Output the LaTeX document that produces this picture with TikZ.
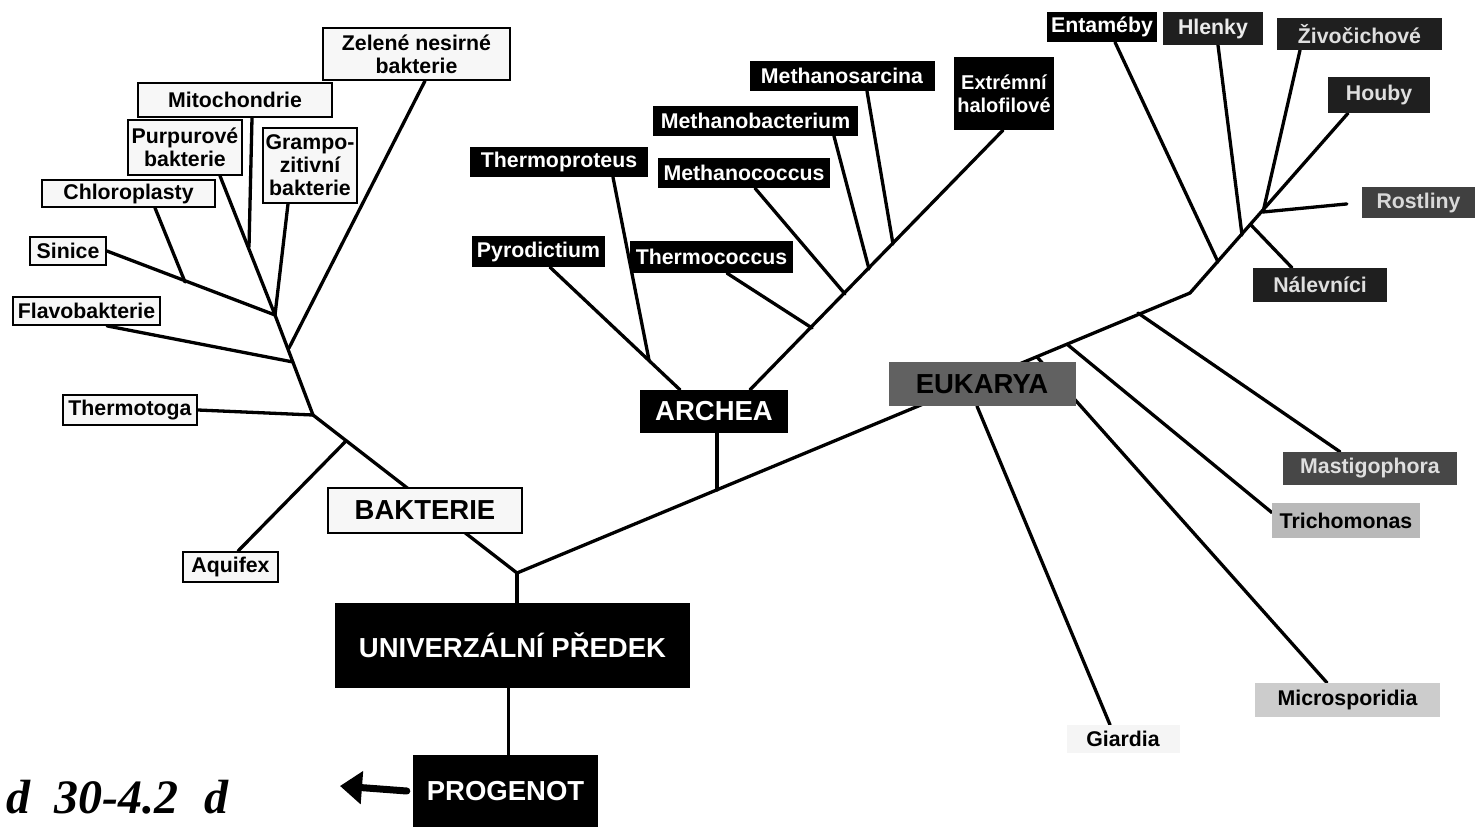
\documentclass[tikz,border=0pt]{standalone}
\usepackage{fontspec}
\setmainfont{Liberation Sans}
\newfontfamily\handfont{Liberation Serif}
\usetikzlibrary{arrows.meta}
\pgfdeclarelayer{bg}
\pgfdeclarelayer{paper}
\pgfsetlayers{paper,bg,main}
\newcommand\labfont{\fontsize{21.3}{23}\selectfont\bfseries}
\newcommand\headfont{\fontsize{27.5}{29}\selectfont\bfseries}
\tikzset{
  lbl/.style={inner sep=0pt, align=center, font=\labfont},
  bac/.style={lbl, draw=black, line width=1.8pt, fill=gray!6, text=black},
  arc/.style={lbl, fill=black, text=white},
  eukdark/.style={lbl, fill=black!88, text=gray!25},
  eukmid/.style={lbl, fill=gray!55, text=black},
  euklight/.style={lbl, fill=gray!8, text=black},
  branch/.style={line width=3.3pt, line cap=round, line join=round},
}
\begin{document}
\begin{tikzpicture}[x=1pt,y=-1pt]
\useasboundingbox (0,0) rectangle (1480,829);
\begin{pgfonlayer}{paper}
\fill[white] (0,0) rectangle (1480,829);
\end{pgfonlayer}

% ---------- bacteria ----------
\node[bac, minimum width=187pt, minimum height=52pt] (zel) at (416.5,54) {Zelené nesirné\\bakterie};
\node[bac, minimum width=194pt, minimum height=34pt] (mito) at (235,100) {Mitochondrie};
\node[bac, minimum width=114pt, minimum height=55pt] (purp) at (185,147.5) {Purpurové\\bakterie};
\node[bac, minimum width=94pt, minimum height=75pt] (gram) at (310,165.5) {Grampo-\\zitivní\\bakterie};
\node[bac, minimum width=173pt, minimum height=27pt] (chlo) at (128.5,193.5) {Chloroplasty};
\node[bac, minimum width=76pt, minimum height=28pt] (sin) at (68,251) {Sinice};
\node[bac, minimum width=147pt, minimum height=28pt] (flavo) at (86.5,311) {Flavobakterie};
\node[bac, minimum width=134pt, minimum height=30pt] (thermot) at (130,410) {Thermotoga};
\node[bac, minimum width=95pt, minimum height=30pt] (aqui) at (230.5,567) {Aquifex};
\node[bac, font=\headfont, minimum width=194pt, minimum height=45pt] (bakt) at (425,510.5) {BAKTERIE};

% ---------- archaea ----------
\node[arc, minimum width=185pt, minimum height=30pt] (msar) at (842,76) {Methanosarcina};
\node[arc, font=\fontsize{20}{23}\selectfont\bfseries, minimum width=100pt, minimum height=73pt] (extr) at (1004,93.5) {Extrémní\\halofilové};
\node[arc, minimum width=205pt, minimum height=30pt] (mbac) at (755.5,121) {Methanobacterium};
\node[arc, minimum width=178pt, minimum height=30pt] (tpro) at (559,162) {Thermoproteus};
\node[arc, minimum width=172pt, minimum height=30pt] (mcoc) at (744,173) {Methanococcus};
\node[arc, minimum width=133pt, minimum height=31pt] (pyro) at (538.5,251.5) {Pyrodictium};
\node[arc, minimum width=163pt, minimum height=32pt] (tcoc) at (711.5,257) {Thermococcus};
\node[arc, font=\headfont, minimum width=148pt, minimum height=43pt] (arch) at (714,411.5) {ARCHEA};

% ---------- eukarya ----------
\node[lbl, fill=black, text=white, minimum width=110pt, minimum height=30pt] (ent) at (1102,27) {Entaméby};
\node[eukdark, text=gray!15, minimum width=100pt, minimum height=33pt] (hlen) at (1213,28.5) {Hlenky};
\node[eukdark, minimum width=165pt, minimum height=32pt] (ziv) at (1359.5,34) {Živočichové};
\node[eukdark, minimum width=102pt, minimum height=36pt] (houb) at (1379,95) {Houby};
\node[lbl, fill=black!75, text=gray!30, minimum width=113pt, minimum height=31pt] (rost) at (1418.5,202.5) {Rostliny};
\node[eukdark, minimum width=134pt, minimum height=34pt] (nalev) at (1320,285) {Nálevníci};
\node[lbl, fill=black!72, text=gray!25, minimum width=174pt, minimum height=33pt] (mast) at (1370,468.5) {Mastigophora};
\node[eukmid, minimum width=148pt, minimum height=35pt] (trich) at (1346,520.5) {Trichomonas};
\node[lbl, fill=gray!40, text=black, minimum width=185pt, minimum height=34pt] (micro) at (1347.5,700) {Microsporidia};
\node[euklight, minimum width=113pt, minimum height=28pt] (giar) at (1123,739) {Giardia};
\node[lbl, font=\headfont, fill=black!62, text=black, minimum width=187pt, minimum height=44pt] (euk) at (982,384) {EUKARYA};

% ---------- centre ----------
\node[lbl, font=\headfont, fill=black, text=white, minimum width=355pt, minimum height=85pt] (univ) at (512.5,645.5) {UNIVERZÁLNÍ PŘEDEK};
\node[lbl, font=\headfont, fill=black, text=white, minimum width=185pt, minimum height=72pt] (prog) at (505.5,791) {PROGENOT};
\node[font=\handfont\bfseries\itshape\fontsize{48}{48}\selectfont, inner sep=0pt, anchor=west] (hand) at (6,797) {d\hspace{24pt}30-4.2\hspace{26pt}d};

% ---------- junctions ----------
\coordinate (root) at (517,573);
\coordinate (bJ) at (313,415);
\coordinate (aqJ) at (346,441);
\coordinate (flJ) at (293,362);
\coordinate (zeJ) at (289,348);
\coordinate (topJ) at (275,315);
\coordinate (chJ) at (185,282);
\coordinate (miJ) at (249,247);
\coordinate (arJ) at (717,490);
\coordinate (thpJ) at (649,360);
\coordinate (tcJ) at (812,328);
\coordinate (mcJ) at (845,294);
\coordinate (mbJ) at (869,269);
\coordinate (msJ) at (893,244);
\coordinate (eSplit) at (1190,293);
\coordinate (entJ) at (1218,262);
\coordinate (hleJ) at (1242,235);
\coordinate (nalJ) at (1251,225);
\coordinate (rosJ) at (1263,212);
\coordinate (mastJ) at (1138,313);
\coordinate (trJ) at (1068,345);
\coordinate (micJ) at (1037,357);
\coordinate (arrowtip) at (340,786);

\begin{pgfonlayer}{bg}
% centre
\draw[branch] (root) -- (root |- univ.north);
\draw[branch] ([xshift=-4pt]univ.south) -- ([xshift=-4pt]univ.south |- prog.north);
% bacteria
\draw[branch] (root) -- (bJ);
\draw[branch] (bJ) -- (topJ);
\draw[branch] (sin.east) -- (topJ);
\draw[branch] ([xshift=26.5pt]chlo.south) -- (chJ);
\draw[branch] ([xshift=35pt]purp.south) -- (topJ);
\draw[branch] ([xshift=17pt]mito.south) -- (miJ);
\draw[branch] ([xshift=-22pt]gram.south) -- (topJ);
\draw[branch] ([xshift=8.5pt]zel.south) -- (zeJ);
\draw[branch] ([xshift=20.5pt]flavo.south) -- (flJ);
\draw[branch] (thermot.east) -- (bJ);
\draw[branch] ([xshift=7.5pt]aqui.north) -- (aqJ);
% archaea
\draw[branch] (root) -- (eSplit);
\draw[branch] ([xshift=3pt]arch.south) -- (arJ);
\draw[branch] ([xshift=36pt]arch.north) -- ([xshift=-1pt]extr.south);
\draw[branch] ([xshift=11.5pt]pyro.south) -- ([xshift=-34pt]arch.north);
\draw[branch] ([xshift=54pt]tpro.south) -- (thpJ);
\draw[branch] ([xshift=15.5pt]tcoc.south) -- (tcJ);
\draw[branch] ([xshift=11pt]mcoc.south) -- (mcJ);
\draw[branch] ([xshift=78.5pt]mbac.south) -- (mbJ);
\draw[branch] ([xshift=25pt]msar.south) -- (msJ);
% eukarya
\draw[branch] (eSplit) -- ([xshift=-31pt]houb.south);
\draw[branch] ([xshift=13pt]ent.south) -- (entJ);
\draw[branch] ([xshift=5pt]hlen.south) -- (hleJ);
\draw[branch] ([xshift=-59.5pt]ziv.south) -- (rosJ);
\draw[branch, shorten >=15pt] (rosJ) -- (rost.west);
\draw[branch] (nalJ) -- ([xshift=-28pt]nalev.north);
\draw[branch] (mastJ) -- ([xshift=-30pt]mast.north);
\draw[branch] (trJ) -- ([yshift=8pt]trich.west);
\draw[branch] (micJ) -- ([xshift=-20.5pt]micro.north);
\draw[branch] ([xshift=-5pt]euk.south) -- ([xshift=-13pt]giar.north);
% hand-drawn arrow
\draw[line width=7pt, line cap=round, -{Triangle[length=22pt,width=32pt]}] ([xshift=-6pt]prog.west) -- (arrowtip);
\end{pgfonlayer}
\end{tikzpicture}
\end{document}
